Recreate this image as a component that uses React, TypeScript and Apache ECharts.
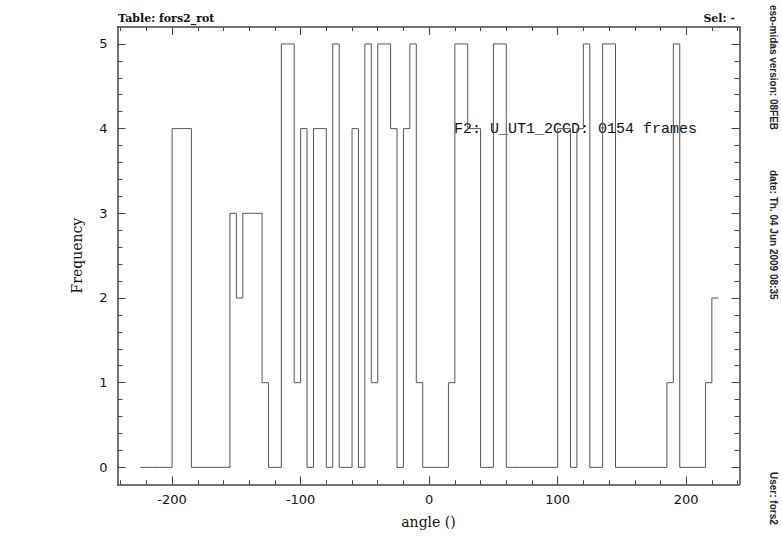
import React, { useEffect, useRef } from "react";
import * as echarts from "echarts";

// Histogram of rotator angle, bins of 5 degrees starting at -225
const binStart = -225;
const binWidth = 5;
const counts = [
  0, 0, 0, 0, 0, 4, 4, 4, 0, 0,
  0, 0, 0, 0, 3, 2, 3, 3, 3, 1,
  0, 0, 5, 5, 1, 4, 0, 4, 4, 0,
  5, 0, 0, 4, 0, 5, 1, 5, 5, 4,
  0, 4, 5, 1, 0, 0, 0, 0, 1, 5,
  5, 4, 4, 0, 0, 5, 5, 0, 0, 0,
  0, 0, 0, 0, 0, 4, 4, 0, 4, 5,
  0, 0, 5, 5, 0, 0, 0, 0, 0, 0,
  0, 0, 1, 5, 0, 0, 0, 0, 1, 2,
];
const xMajorTicks = [-200, -100, 0, 100, 200];
const xMinorTicks = [-240, -220, -200, -180, -160, -140, -120, -100, -80, -60, -40, -20, 0, 20, 40, 60, 80, 100, 120, 140, 160, 180, 200, 220, 240];
const yMajorTicks = [0, 1, 2, 3, 4, 5];
const yMinorTicks = [0, 0.2, 0.4, 0.6, 0.8, 1, 1.2, 1.4, 1.6, 1.8, 2, 2.2, 2.4, 2.6, 2.8, 3, 3.2, 3.4, 3.6, 3.8, 4, 4.2, 4.4, 4.6, 4.8, 5];
const titleLeft = "Table: fors2_rot";
const titleRight = "Sel: -";
const annotation = "F2: U_UT1_2CCD: 0154 frames";
const sideTexts = ["eso-midas version: 08FEB", "date: Th. 04 Jun 2009 08:35", "User: fors2"];

export default function App() {
  const ref = useRef<HTMLDivElement>(null);
  useEffect(() => {
    if (!ref.current) return;
    const chart = echarts.init(ref.current, null, { renderer: "svg" });
    const points: number[][] = counts.map((v, i) => [binStart + i * binWidth, v]);
    points.push([binStart + counts.length * binWidth, counts[counts.length - 1]]);

    const axColor = "#444";
    const xMin = -242.5, xMax = 241.5, yMin = -0.2, yMax = 5.2;
    const mkX = (pos: string, ticks: number[], len: number, labels: boolean, line: boolean) => ({
      type: "value",
      position: pos,
      min: xMin,
      max: xMax,
      axisLine: { show: line, onZero: false, lineStyle: { color: axColor, width: 1.5 } },
      axisTick: { show: true, inside: true, length: len, customValues: ticks, lineStyle: { color: axColor, width: 1 } },
      axisLabel: labels
        ? { show: true, customValues: xMajorTicks, color: "#111", fontFamily: "DejaVu Sans", fontSize: 13, margin: 9 }
        : { show: false },
      splitLine: { show: false },
      name: labels ? "angle ()" : "",
      nameLocation: "middle",
      nameGap: 31,
      nameTextStyle: { color: "#111", fontFamily: "DejaVu Serif", fontSize: 14 },
    });
    const mkY = (pos: string, ticks: number[], len: number, labels: boolean, line: boolean) => ({
      type: "value",
      position: pos,
      min: yMin,
      max: yMax,
      axisLine: { show: line, onZero: false, lineStyle: { color: axColor, width: 1.5 } },
      axisTick: { show: true, inside: true, length: len, customValues: ticks, lineStyle: { color: axColor, width: 1 } },
      axisLabel: labels
        ? { show: true, customValues: yMajorTicks, color: "#111", fontFamily: "DejaVu Sans", fontSize: 13, margin: 10 }
        : { show: false },
      splitLine: { show: false },
      name: labels ? "Frequency" : "",
      nameLocation: "middle",
      nameGap: 34,
      nameTextStyle: { color: "#111", fontFamily: "DejaVu Serif", fontSize: 14 },
    });

    const sideFont = "bold 10px 'Liberation Sans'";
    chart.setOption({
      animation: false,
      backgroundColor: "#fff",
      grid: { left: 117.5, right: 42.5, top: 27, bottom: 57.7 },
      xAxis: [
        mkX("bottom", xMajorTicks, 8, true, true),
        mkX("bottom", xMinorTicks, 4, false, false),
        mkX("top", xMajorTicks, 8, false, true),
        mkX("top", xMinorTicks, 4, false, false),
      ],
      yAxis: [
        mkY("left", yMajorTicks, 8, true, true),
        mkY("left", yMinorTicks, 5, false, false),
        mkY("right", yMajorTicks, 8, false, true),
        mkY("right", yMinorTicks, 5, false, false),
      ],
      series: [
        {
          type: "line",
          xAxisIndex: 0,
          yAxisIndex: 0,
          step: "end",
          data: points,
          symbol: "none",
          lineStyle: { color: "#555", width: 1 },
        },
      ],
      graphic: [
        {
          type: "text",
          left: 118,
          top: 13,
          style: { text: titleLeft, fill: "#111", font: "bold 11px 'DejaVu Serif'" },
        },
        {
          type: "text",
          right: 47,
          top: 13,
          style: { text: titleRight, fill: "#111", font: "bold 11px 'DejaVu Serif'" },
        },
        {
          type: "text",
          x: 454,
          y: 129,
          style: { text: annotation, fill: "#111", font: "15px 'Liberation Mono'", textVerticalAlign: "middle" },
        },
        {
          type: "text",
          x: 773,
          y: 5,
          rotation: -Math.PI / 2,
          style: { text: sideTexts[0], fill: "#222", font: sideFont, textAlign: "left", textVerticalAlign: "middle" },
        },
        {
          type: "text",
          x: 773,
          y: 170,
          rotation: -Math.PI / 2,
          style: { text: sideTexts[1], fill: "#222", font: sideFont, textAlign: "left", textVerticalAlign: "middle" },
        },
        {
          type: "text",
          x: 773,
          y: 472,
          rotation: -Math.PI / 2,
          style: { text: sideTexts[2], fill: "#222", font: sideFont, textAlign: "left", textVerticalAlign: "middle" },
        },
      ],
    });
    return () => chart.dispose();
  }, []);
  return (
    <div
      ref={ref}
      style={{ position: "fixed", left: 0, top: 0, width: 782, height: 542, background: "#fff" }}
    />
  );
}
